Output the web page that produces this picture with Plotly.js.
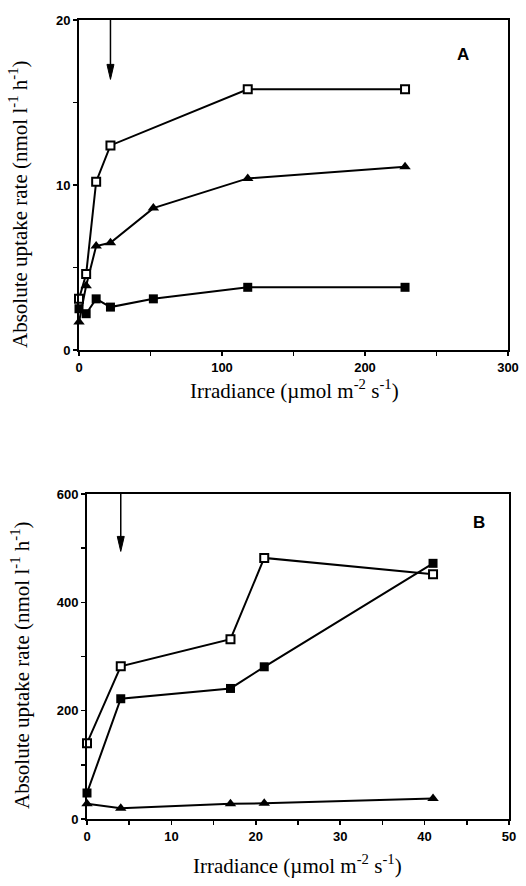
<!DOCTYPE html>
<html>
<head>
<meta charset="utf-8">
<script src="https://cdn.plot.ly/plotly-3.0.1.min.js"></script>
<style>html,body{margin:0;padding:0;background:#fff;}#chart{width:526px;height:886px;}</style>
</head>
<body>
<div id="chart"></div>
<script>
// ---- Panel A data ----
const xA_open = [0, 5, 12, 22, 118, 228];
const yA_open = [3.1, 4.6, 10.2, 12.4, 15.8, 15.8];
const xA_tri = [0, 5, 12, 22, 52, 118, 228];
const yA_tri = [1.7, 3.9, 6.3, 6.5, 8.6, 10.4, 11.1];
const xA_fill = [0, 5, 12, 22, 52, 118, 228];
const yA_fill = [2.5, 2.2, 3.1, 2.6, 3.1, 3.8, 3.8];
const arrowA = {x: 22, yTip: 16.4, yTail: 20};

// ---- Panel B data ----
const xB = [0, 4, 17, 21, 41];
const yB_open = [140, 282, 332, 482, 452];
const yB_fill = [48, 222, 241, 281, 472];
const yB_tri = [28, 20, 28, 29, 38];
const arrowB = {x: 4, yTip: 494, yTail: 600};

// ---- ticks (labelled majors, unlabelled minors) ----
const xA_major = [0, 100, 200, 300];
const xA_minor = [50, 150, 250];
const yA_major = [0, 10, 20];
const yA_minor = [5, 15];
const xB_major = [0, 10, 20, 30, 40, 50];
const xB_minor = [5, 15, 25, 35, 45];
const yB_major = [0, 200, 400, 600];
const yB_minor = [100, 300, 500];

const yTitle = 'Absolute uptake rate (nmol l<sup>-1</sup> h<sup>-1</sup>)';
const xTitle = 'Irradiance (µmol m<sup>-2</sup> s<sup>-1</sup>)';

const W = 526, H = 886;
const px = v => v / W;
const py = v => 1 - v / H;

const lineStyle = {color: '#000', width: 2};
const openMk = {symbol: 'square', size: 8, color: '#fff', line: {color: '#000', width: 2}};
const fillMk = {symbol: 'square', size: 9, color: '#000', line: {color: '#000', width: 0}};
const triMk = {symbol: 'triangle-up', size: 10, color: '#000', line: {color: '#000', width: 0}};

function tr(x, y, mk, xa, ya) {
  return {x: x, y: y, xaxis: xa, yaxis: ya, type: 'scatter', mode: 'lines+markers',
    line: lineStyle, marker: mk, cliponaxis: false, showlegend: false, hoverinfo: 'x+y'};
}

const data = [
  tr(xA_fill, yA_fill, fillMk, 'x', 'y'),
  tr(xA_tri, yA_tri, triMk, 'x', 'y'),
  tr(xA_open, yA_open, openMk, 'x', 'y'),
  tr(xB, yB_tri, triMk, 'x2', 'y2'),
  tr(xB, yB_fill, fillMk, 'x2', 'y2'),
  tr(xB, yB_open, openMk, 'x2', 'y2')
];

const tickFont = {family: 'Liberation Sans, Arial, sans-serif', size: 13, color: '#000', weight: 'bold'};
function ax(major, minor, extra) {
  return Object.assign({
    showline: true, mirror: true, linecolor: '#000', linewidth: 2,
    ticks: 'outside', ticklen: 4, tickwidth: 1.5, tickcolor: '#000',
    showgrid: false, zeroline: false, tickfont: tickFont, fixedrange: true,
    tickmode: 'array', tickvals: major,
    minor: {tickmode: 'array', tickvals: minor, ticks: 'outside', ticklen: 4, tickwidth: 1.5, tickcolor: '#000', showgrid: false}
  }, extra);
}

// arrow drawn as shapes: shaft + filled head (head size in px, converted per axis)
function arrowShapes(a, xr, yr, xPerPx, yPerPx) {
  const halfW = 3.5 * xPerPx, headH = 15 * yPerPx;
  return [
    {type: 'line', xref: xr, yref: yr, x0: a.x, x1: a.x, y0: a.yTail, y1: a.yTip + headH * 0.5, line: {color: '#000', width: 1.5}},
    {type: 'path', xref: xr, yref: yr, fillcolor: '#000', line: {color: '#000', width: 1},
      path: `M ${a.x - halfW} ${a.yTip + headH} L ${a.x + halfW} ${a.yTip + headH} L ${a.x} ${a.yTip} Z`}
  ];
}

const serif = {family: 'Liberation Serif, Times New Roman, serif', size: 21, color: '#000'};
const boldSans = {family: 'Liberation Sans, Arial, sans-serif', size: 17, color: '#000', weight: 'bold'};

const layout = {
  width: W, height: H,
  margin: {l: 0, r: 0, t: 0, b: 0, pad: 0},
  paper_bgcolor: '#fff', plot_bgcolor: '#fff',
  showlegend: false,
  xaxis: ax(xA_major, xA_minor, {domain: [px(79), px(508)], range: [0, 300], anchor: 'y'}),
  yaxis: ax(yA_major, yA_minor, {domain: [py(350), py(20)], range: [0, 20], anchor: 'x'}),
  xaxis2: ax(xB_major, xB_minor, {domain: [px(87), px(509)], range: [0, 50], anchor: 'y2'}),
  yaxis2: ax(yB_major, yB_minor, {domain: [py(819), py(494)], range: [0, 600], anchor: 'x2'}),
  shapes: [].concat(
    arrowShapes(arrowA, 'x', 'y', 300 / 429, 20 / 330),
    arrowShapes(arrowB, 'x2', 'y2', 50 / 422, 600 / 325)
  ),
  annotations: [
    {xref: 'paper', yref: 'paper', x: px(18), y: py(204), text: yTitle, textangle: -90, showarrow: false, font: serif, xanchor: 'center', yanchor: 'middle'},
    {xref: 'paper', yref: 'paper', x: px(294), y: py(389), text: xTitle, showarrow: false, font: serif, xanchor: 'center', yanchor: 'middle'},
    {xref: 'paper', yref: 'paper', x: px(20), y: py(665), text: yTitle, textangle: -90, showarrow: false, font: serif, xanchor: 'center', yanchor: 'middle'},
    {xref: 'paper', yref: 'paper', x: px(297), y: py(864), text: xTitle, showarrow: false, font: serif, xanchor: 'center', yanchor: 'middle'},
    {xref: 'paper', yref: 'paper', x: px(471), y: py(43), text: 'A', showarrow: false, font: boldSans},
    {xref: 'paper', yref: 'paper', x: px(487), y: py(522), text: 'B', showarrow: false, font: boldSans}
  ]
};

Plotly.newPlot('chart', data, layout, {displayModeBar: false, staticPlot: true});
</script>
</body>
</html>
